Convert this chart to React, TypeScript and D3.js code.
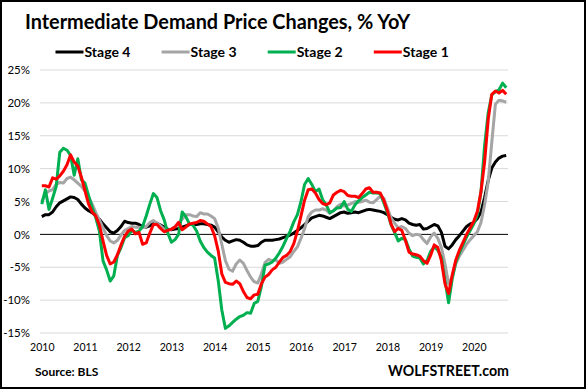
import * as d3 from "d3";
import React, { useEffect, useRef } from "react";

// Year labels sit under every 12th monthly point.
const yearLabels = ["2010", "2011", "2012", "2013", "2014", "2015", "2016", "2017", "2018", "2019", "2020"];
const yTicks = [-15, -10, -5, 0, 5, 10, 15, 20, 25];
const seriesNames = ["Stage 4", "Stage 3", "Stage 2", "Stage 1"];
const seriesColors = ["#000000", "#a5a5a5", "#00b050", "#ff0000"];

// Monthly % YoY.
const stage4 = [
  2.7, 3.0, 3.0, 3.4, 4.2, 4.8, 5.1, 5.4, 5.7, 5.6, 5.3, 4.6,
  4.0, 3.6, 3.3, 2.8, 2.3, 1.6, 1.0, 0.4, 0.2, 0.6, 1.2, 2.0,
  1.8, 1.7, 1.7, 1.5, 1.2, 1.1, 1.3, 1.9, 1.7, 1.4, 1.1, 0.8,
  0.7, 0.8, 0.9, 1.1, 1.3, 1.5, 1.5, 1.5, 1.6, 1.6, 1.5, 1.4,
  1.1, 0.4, -0.4, -0.9, -1.2, -1.0, -0.8, -0.9, -1.2, -1.6, -1.8, -1.8,
  -1.7, -1.2, -0.9, -0.9, -0.9, -0.8, -0.7, -0.5, -0.3, -0.1, 0.2, 0.6,
  1.0, 1.5, 2.0, 2.5, 2.7, 2.9, 2.8, 2.6, 2.4, 2.7, 3.0, 3.3,
  3.4, 3.2, 3.3, 3.4, 3.3, 3.5, 3.7, 3.8, 3.7, 3.6, 3.5, 3.3,
  3.0, 2.6, 2.3, 2.2, 2.4, 2.2, 1.7, 1.5, 1.4, 1.5, 0.8, 0.9,
  1.2, 1.5, 1.3, 0.3, -1.8, -2.2, -1.6, -0.8, -0.2, 0.5, 1.2, 1.6,
  1.8, 2.4, 3.4, 5.6, 8.2, 10.1, 11.0, 11.6, 11.9, 12.0,
];
const stage3 = [
  5.0, 6.2, 6.6, 6.8, 7.6, 7.9, 7.8, 8.5, 8.7, 8.3, 7.8, 7.3,
  6.6, 5.6, 4.6, 3.3, 2.2, 1.0, -0.2, -1.0, -1.3, -0.9, -0.1, 0.6,
  0.9, 1.2, 1.1, 1.1, 1.0, 1.2, 1.8, 2.1, 1.7, 1.3, 0.8, 0.6,
  0.8, 1.2, 1.8, 2.3, 3.0, 3.0, 2.8, 2.7, 3.3, 3.1, 3.1, 2.8,
  2.4, 1.0, -1.5, -4.0, -5.3, -5.6, -4.5, -3.9, -4.4, -5.5, -6.5, -7.2,
  -7.4, -6.0, -4.3, -3.8, -4.0, -3.9, -4.4, -4.2, -3.8, -3.4, -2.6, -1.9,
  -0.6, 0.9, 2.7, 3.4, 3.7, 3.7, 3.9, 3.7, 3.2, 3.6, 4.2, 4.6,
  4.3, 4.5, 4.7, 5.0, 4.9, 5.0, 5.2, 4.9, 4.8, 5.3, 5.8, 5.5,
  4.0, 2.5, 1.7, 1.0, 1.2, 0.9, 0.2, -0.2, 0.0, -0.1, -0.8, -1.4,
  -0.4, 0.2, -0.6, -2.0, -4.5, -7.5, -6.5, -4.5, -3.3, -2.4, -1.5, -0.8,
  -0.2, 0.4, 1.8, 4.5, 8.0, 14.0, 19.8, 20.4, 20.3, 20.1,
];
const stage2 = [
  4.6, 6.8, 3.8, 5.5, 7.3, 12.5, 13.1, 12.8, 12.0, 9.0, 11.5, 8.3,
  7.8, 5.9, 4.1, 2.5, 0.5, -4.0, -5.4, -7.1, -6.3, -3.2, -2.0, -0.5,
  -0.2, 0.6, 0.3, 0.5, 1.2, 2.8, 4.6, 6.2, 5.6, 3.6, 2.2, 0.2,
  -1.2, -0.8, 0.0, 3.4, 2.7, 1.6, 1.4, 0.5, -1.0, -2.0, -2.7, -3.2,
  -3.6, -7.0, -11.5, -14.3, -13.9, -13.4, -12.9, -12.5, -12.3, -11.9, -12.0, -10.5,
  -10.2, -7.9, -4.7, -4.5, -4.2, -3.6, -2.8, -1.8, -0.6, 0.5, 1.9, 3.0,
  5.0, 7.6, 8.5, 7.6, 6.5, 6.9, 5.3, 4.5, 3.3, 3.6, 4.0, 4.1,
  5.0, 3.8, 3.5, 4.5, 5.1, 5.6, 6.0, 6.4, 6.3, 6.3, 6.2, 4.8,
  3.3, 1.5, 0.3, -1.0, -0.6, -0.8, -2.2, -3.3, -3.5, -3.6, -4.5, -4.0,
  -2.6, -1.9, -2.4, -3.5, -7.0, -10.4, -6.8, -4.2, -2.8, -1.6, -0.4, 0.6,
  1.6, 3.0, 6.5, 13.5, 18.5, 21.2, 21.7, 22.0, 23.0, 22.3,
];
const stage1 = [
  7.4, 7.4, 7.2, 8.6, 8.4, 8.9, 9.6, 10.6, 12.1, 11.0, 10.4, 8.7,
  6.6, 4.6, 3.4, 2.8, 1.4, -1.0, -3.2, -4.5, -4.2, -3.1, -1.6, -0.3,
  0.5, 0.8, 0.1, 0.3, -1.5, -1.3, 0.2, 1.5, 1.5, 0.9, 0.4, 0.6,
  0.8, 1.1, 1.8, 0.7, 1.1, 1.6, 1.7, 1.8, 2.1, 2.0, 1.6, 1.2,
  -0.2, -2.5, -6.0, -7.3, -7.5, -7.6, -7.1, -7.5, -8.7, -9.6, -9.8, -9.2,
  -9.1, -7.5, -6.5, -6.1, -5.4, -5.0, -4.2, -3.5, -3.2, -2.6, -1.4, 0.5,
  2.8, 5.2, 6.8, 6.9, 6.3, 5.3, 4.7, 4.5, 4.8, 6.0, 6.4, 6.7,
  6.5, 5.9, 5.8, 5.8, 5.6, 6.2, 6.9, 7.1, 6.4, 6.4, 6.3, 5.2,
  3.6, 1.6, 0.4, 0.9, 0.6, -0.9, -2.7, -3.0, -3.1, -3.3, -4.0, -4.4,
  -3.2, -1.6, -2.0, -4.0, -7.5, -9.0, -6.2, -3.9, -2.4, -1.2, 0.0, 1.0,
  2.0, 3.5, 6.5, 11.0, 17.5, 21.3, 21.8, 21.5, 21.9, 21.3,
];

const font = "Lato, 'Liberation Sans', sans-serif";

export default function App() {
  const ref = useRef<SVGSVGElement>(null);

  useEffect(() => {
    const width = 587;
    const height = 390;
    const plot = { left: 40, right: 508, top: 70, bottom: 333 };
    const series = [stage4, stage3, stage2, stage1];
    const n = stage4.length;

    const svg = d3.select(ref.current);
    svg.selectAll("*").remove();

    const x = d3.scaleLinear().domain([-0.5, n - 0.5]).range([plot.left, plot.right]);
    const y = d3.scaleLinear().domain([-15, 25]).range([plot.bottom, plot.top]);

    // frame
    svg
      .append("rect")
      .attr("x", 1)
      .attr("y", 1)
      .attr("width", width - 3)
      .attr("height", height - 3)
      .attr("fill", "#fff")
      .attr("stroke", "#000")
      .attr("stroke-width", 2);

    svg
      .append("text")
      .attr("x", 25)
      .attr("y", 29)
      .attr("font-family", font)
      .attr("font-weight", "bold")
      .attr("font-size", 20)
      .attr("textLength", 385)
      .attr("lengthAdjust", "spacingAndGlyphs")
      .text("Intermediate Demand Price Changes, % YoY");

    // legend
    const legend = svg
      .append("g")
      .selectAll("g")
      .data(seriesNames)
      .join("g")
      .attr("transform", (_, i) => `translate(${55.5 + i * 106.1},52)`);
    legend
      .append("line")
      .attr("x2", 28)
      .attr("stroke", (_, i) => seriesColors[i])
      .attr("stroke-width", 3);
    legend
      .append("text")
      .attr("x", 29)
      .attr("dy", "0.36em")
      .attr("font-family", font)
      .attr("font-weight", "bold")
      .attr("font-size", 14)
      .text((d) => d);

    // horizontal gridlines (0 is drawn as the black axis line)
    svg
      .append("g")
      .selectAll("line")
      .data(yTicks.filter((t) => t !== 0))
      .join("line")
      .attr("x1", plot.left)
      .attr("x2", plot.right)
      .attr("y1", (d) => y(d))
      .attr("y2", (d) => y(d))
      .attr("stroke", "#d9d9d9")
      .attr("stroke-width", 1);

    svg
      .append("g")
      .attr("transform", `translate(${plot.left},0)`)
      .call(
        d3
          .axisLeft(y)
          .tickValues(yTicks)
          .tickFormat((d) => `${d}%`)
          .tickSize(0)
          .tickPadding(10)
      )
      .attr("font-family", font)
      .attr("font-size", 11.5)
      .call((g) => g.select(".domain").remove());

    svg
      .append("g")
      .attr("transform", `translate(0,${plot.bottom})`)
      .call(
        d3
          .axisBottom(x)
          .tickValues(yearLabels.map((_, i) => i * 12))
          .tickFormat((_, i) => yearLabels[i])
          .tickSize(0)
          .tickPadding(11)
      )
      .attr("font-family", font)
      .attr("font-size", 10.5)
      .call((g) => g.select(".domain").remove());

    svg
      .append("line")
      .attr("x1", plot.left)
      .attr("x2", plot.right)
      .attr("y1", y(0))
      .attr("y2", y(0))
      .attr("stroke", "#000")
      .attr("stroke-width", 1);

    // the four stage lines, Stage 1 ends up on top
    const line = d3
      .line<number>()
      .x((_, i) => x(i))
      .y((d) => y(d));
    svg
      .append("g")
      .selectAll("path")
      .data(series)
      .join("path")
      .attr("d", (d) => line(d))
      .attr("fill", "none")
      .attr("stroke", (_, i) => seriesColors[i])
      .attr("stroke-width", 3)
      .attr("stroke-linejoin", "round");

    svg
      .append("text")
      .attr("x", 35)
      .attr("y", 376)
      .attr("font-family", font)
      .attr("font-weight", "bold")
      .attr("font-size", 12)
      .text("Source: BLS");

    svg
      .append("text")
      .attr("x", 388)
      .attr("y", 376)
      .attr("font-family", font)
      .attr("font-weight", "bold")
      .attr("font-size", 15.5)
      .attr("textLength", 121)
      .attr("lengthAdjust", "spacingAndGlyphs")
      .text("WOLFSTREET.com");
  }, []);

  return (
    <svg
      ref={ref}
      width={587}
      height={390}
      style={{ position: "absolute", left: 0, top: 0, display: "block" }}
    />
  );
}
